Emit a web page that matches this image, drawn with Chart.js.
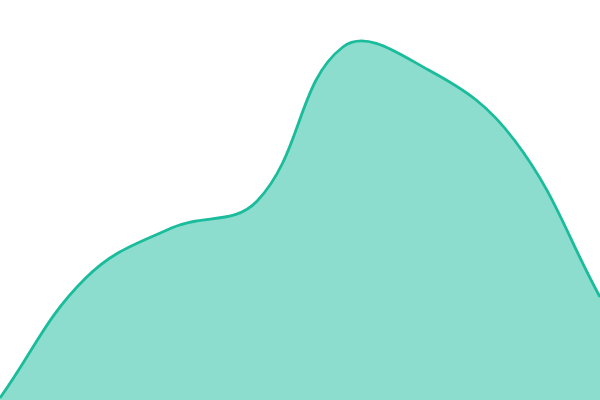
<!DOCTYPE html>
<html>
<head>
<meta charset="utf-8">
<script src="https://cdn.jsdelivr.net/npm/chart.js@4"></script>
<style>
  html, body { margin: 0; padding: 0; background: #fff; }
  #wrap { width: 600px; height: 400px; position: relative; }
</style>
</head>
<body>
<div id="wrap"><canvas id="areaChart"></canvas></div>
<script>
// Werte
const labels = ['1', '2', '3', '4', '5', '6', '7', '8'];
const values = [2, 122, 172, 199, 353, 330, 260, 103];
const yMin = 0;
const yMax = 400;

document.addEventListener("DOMContentLoaded", function () {
    const ctx = document.getElementById('areaChart').getContext('2d');

    new Chart(ctx, {
        type: 'line',
        data: {
            labels: labels,
            datasets: [{
                data: values,
                borderColor: '#1abc9c',
                backgroundColor: 'rgba(26, 188, 156, 0.5)',
                borderWidth: 2.8,
                fill: 'origin',
                tension: 0.4,
                pointRadius: 0
            }]
        },
        options: {
            responsive: true,
            maintainAspectRatio: false,
            animation: false,
            layout: { padding: 0 },
            plugins: {
                legend: { display: false },
                tooltip: { enabled: false }
            },
            scales: {
                x: { display: false, offset: false },
                y: { display: false, min: yMin, max: yMax }
            }
        }
    });
});
</script>
</body>
</html>
